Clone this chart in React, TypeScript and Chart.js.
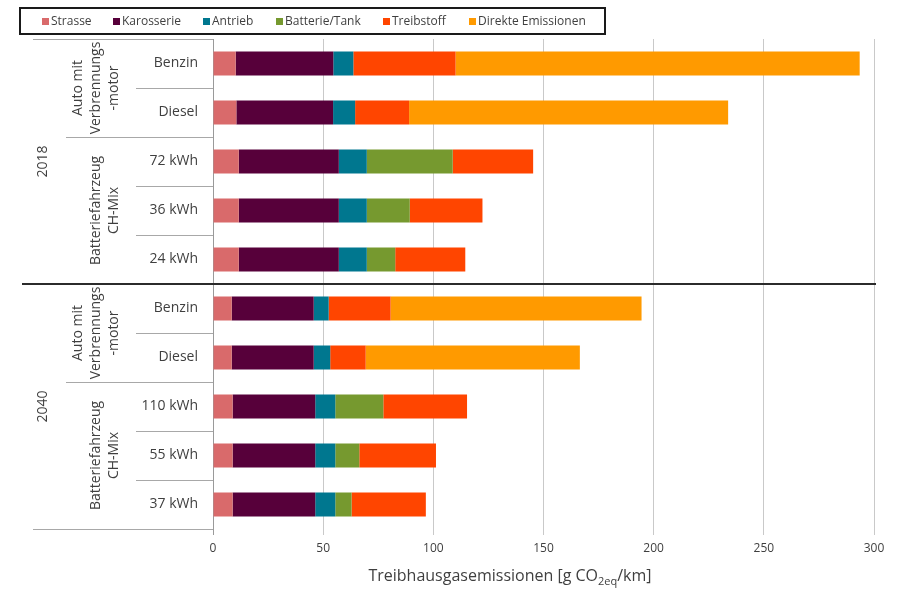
import { useEffect, useRef } from "react";
import { Chart, registerables } from "chart.js";

Chart.register(...registerables);

const FONT = "'Open Sans', sans-serif";
const TEXT = "#3f3f3f";

const rowLabels = ["Benzin", "Diesel", "72 kWh", "36 kWh", "24 kWh", "Benzin", "Diesel", "110 kWh", "55 kWh", "37 kWh"];
const years = ["2018", "2040"];
const yearSpans = [[0, 4], [5, 9]];
const groupLabels = [
  ["Auto mit", "Verbrennungs", "-motor"],
  ["Batteriefahrzeug", "CH-Mix"],
  ["Auto mit", "Verbrennungs", "-motor"],
  ["Batteriefahrzeug", "CH-Mix"],
];
const groupSpans = [[0, 1], [2, 4], [5, 6], [7, 9]];

const seriesNames = ["Strasse", "Karosserie", "Antrieb", "Batterie/Tank", "Treibstoff", "Direkte Emissionen"];
const seriesColors = ["#d96a6b", "#57003a", "#00778f", "#76992f", "#ff4500", "#ff9a00"];

const strasse = [10.3, 10.6, 11.7, 11.7, 11.7, 8.5, 8.5, 8.9, 8.9, 8.9];
const karosserie = [44.3, 43.9, 45.4, 45.4, 45.4, 37.2, 37.2, 37.5, 37.5, 37.5];
const antrieb = [9.1, 10.0, 12.7, 12.7, 12.7, 6.8, 7.5, 9.1, 9.1, 9.1];
const batterie = [0, 0, 39.0, 19.5, 12.9, 0, 0, 21.8, 10.9, 7.4];
const treibstoff = [46.4, 24.5, 36.5, 33.0, 31.8, 28.1, 16.1, 38.0, 34.8, 33.7];
const direkte = [183.4, 144.8, 0, 0, 0, 113.9, 97.2, 0, 0, 0];

const xMin = 0;
const xMax = 300;
const xStep = 50;
const xTitleMain = "Treibhausgasemissionen [g CO";
const xTitleSub = "2eq";
const xTitleEnd = "/km]";

const seriesValues = [strasse, karosserie, antrieb, batterie, treibstoff, direkte];

const legendX = [51, 122, 212, 285, 392, 478];

const decorPlugin = {
  id: "decor",
  afterDraw(chart: any) {
    const { ctx, chartArea, scales } = chart;
    const y = scales.y;
    const n = rowLabels.length;
    const bound = (i: number) =>
      i <= 0 ? chartArea.top : i >= n ? chartArea.bottom : (y.getPixelForValue(i - 1) + y.getPixelForValue(i)) / 2;
    const axisX = chartArea.left;
    ctx.save();

    const hline = (yy: number, x0: number, x1: number) => {
      const py = Math.round(yy) + 0.5;
      ctx.beginPath();
      ctx.moveTo(x0, py);
      ctx.lineTo(x1, py);
      ctx.stroke();
    };

    // separators
    ctx.strokeStyle = "#a8a8a8";
    ctx.lineWidth = 1;
    for (let i = 0; i <= n; i++) {
      const isYear = yearSpans.some((s) => s[0] === i && i > 0);
      if (isYear) continue;
      const isOuter = i === 0 || i === n;
      const isGroup = groupSpans.some((s) => s[0] === i);
      const x0 = isOuter ? 33 : isGroup ? 66 : 136;
      hline(bound(i), x0, axisX);
    }
    // year divider
    ctx.strokeStyle = "#2b2b2b";
    ctx.lineWidth = 2;
    yearSpans.forEach((s) => {
      if (s[0] > 0) {
        const yy = Math.round(bound(s[0]));
        ctx.beginPath();
        ctx.moveTo(22, yy);
        ctx.lineTo(chartArea.right + 2, yy);
        ctx.stroke();
      }
    });

    // rotated labels
    ctx.fillStyle = TEXT;
    ctx.font = `14px ${FONT}`;
    ctx.textAlign = "center";
    ctx.textBaseline = "middle";
    const rotText = (t: string, x: number, yc: number) => {
      ctx.save();
      ctx.translate(x, yc);
      ctx.rotate(-Math.PI / 2);
      ctx.fillText(t, 0, 0);
      ctx.restore();
    };
    groupSpans.forEach((s, gi) => {
      const yc = (bound(s[0]) + bound(s[1] + 1)) / 2;
      const lines = groupLabels[gi];
      lines.forEach((t, li) => {
        const x = 114 - (lines.length - 1 - li) * 18;
        rotText(t, x, yc);
      });
    });
    yearSpans.forEach((s, yi) => {
      const yc = (bound(s[0]) + bound(s[1] + 1)) / 2;
      rotText(years[yi], 43, yc);
    });

    // legend
    ctx.strokeStyle = "#1a1a1a";
    ctx.lineWidth = 2;
    ctx.strokeRect(20, 8, 585, 26);
    ctx.font = `12px ${FONT}`;
    ctx.textAlign = "left";
    ctx.textBaseline = "middle";
    seriesNames.forEach((name, i) => {
      const tx = legendX[i];
      ctx.fillStyle = seriesColors[i];
      ctx.fillRect(tx - 9, 18, 7, 7);
      ctx.fillStyle = TEXT;
      ctx.fillText(name, tx, 21.5);
    });

    // x axis title with subscript
    ctx.fillStyle = TEXT;
    ctx.textBaseline = "alphabetic";
    ctx.font = `16px ${FONT}`;
    const w1 = ctx.measureText(xTitleMain).width;
    const w3 = ctx.measureText(xTitleEnd).width;
    ctx.font = `11px ${FONT}`;
    const w2 = ctx.measureText(xTitleSub).width;
    const total = w1 + w2 + w3;
    const cx = 510;
    const base = 581;
    let x = cx - total / 2;
    ctx.font = `16px ${FONT}`;
    ctx.fillText(xTitleMain, x, base);
    x += w1;
    ctx.font = `11px ${FONT}`;
    ctx.fillText(xTitleSub, x, base + 4);
    x += w2;
    ctx.font = `16px ${FONT}`;
    ctx.fillText(xTitleEnd, x, base);

    ctx.restore();
  },
};

export default function App() {
  const canvasRef = useRef<HTMLCanvasElement | null>(null);

  useEffect(() => {
    const canvas = canvasRef.current;
    if (!canvas) return;
    const chart = new Chart(canvas, {
      type: "bar",
      data: {
        labels: rowLabels,
        datasets: seriesNames.map((name, i) => ({
          label: name,
          data: seriesValues[i],
          backgroundColor: seriesColors[i],
          borderWidth: 0,
          categoryPercentage: 1,
          barPercentage: 0.49,
        })),
      },
      options: {
        indexAxis: "y",
        responsive: false,
        animation: false,
        devicePixelRatio: 1,
        layout: { padding: { top: 39, right: 26, left: 0, bottom: 0 } },
        plugins: {
          legend: { display: false },
          title: { display: false },
          tooltip: { enabled: false },
        },
        scales: {
          x: {
            stacked: true,
            min: xMin,
            max: xMax,
            border: { display: false },
            grid: {
              color: (c: any) => (c.tick && c.tick.value === 0 ? "#9a9a9a" : "#c9c9c9"),
              lineWidth: 1,
              drawTicks: true,
              tickLength: 6,
            },
            ticks: {
              stepSize: xStep,
              padding: 6,
              color: TEXT,
              font: { family: FONT, size: 12 },
            },
            afterFit: (scale: any) => {
              scale.height = 65;
            },
          },
          y: {
            stacked: true,
            border: { display: false },
            grid: { display: false, drawTicks: false },
            ticks: {
              padding: 15,
              color: TEXT,
              font: { family: FONT, size: 14 },
            },
            afterFit: (scale: any) => {
              scale.width = 213;
            },
          },
        },
      } as any,
      plugins: [decorPlugin],
    });
    return () => chart.destroy();
  }, []);

  return (
    <div style={{ position: "absolute", left: 0, top: 0, width: 900, height: 594, background: "#fff" }}>
      <canvas ref={canvasRef} width={900} height={594} style={{ display: "block" }} />
    </div>
  );
}
